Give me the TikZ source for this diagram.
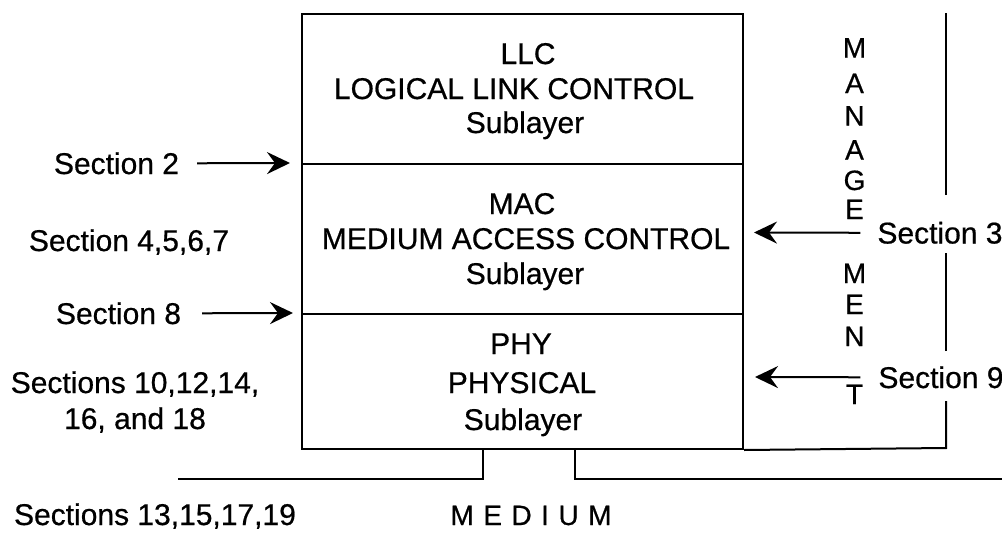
\documentclass[tikz,border=0pt]{standalone}
\usepackage{fontspec}
\setmainfont{Liberation Sans}[FakeBold=0.6]
\usetikzlibrary{arrows.meta}
\begin{document}
\begin{tikzpicture}[x=1pt,y=-1pt,line width=2pt,
  lbl/.style={font=\fontsize{30}{35}\selectfont,anchor=base,inner sep=0pt},
  mg/.style={font=\fontsize{28}{32}\selectfont,anchor=base,inner sep=0pt},
  layer/.style={draw,rectangle,inner sep=0pt,minimum width=441pt,anchor=north west},
  arr/.style={-{Stealth[length=23pt,width=22pt,inset=8pt]},line width=2pt}]
\useasboundingbox (0,0) rectangle (1002,533);
% layers
\node[layer,minimum height=150pt] (llc) at (301,13) {};
\node[layer,minimum height=150pt] (mac) at (301,163) {};
\node[layer,minimum height=135pt] (phy) at (301,313) {};
% layer texts
\node[lbl] (llc1) at (528,64) {LLC};
\node[lbl] (llc2) at (514,99) {LOGICAL LINK CONTROL};
\node[lbl] (llc3) at (525,133) {Sublayer};
\node[lbl] (mac1) at (522,214) {MAC};
\node[lbl] (mac2) at (526,249) {MEDIUM ACCESS CONTROL};
\node[lbl] (mac3) at (525,284) {Sublayer};
\node[lbl] (phy1) at (521,354) {PHY};
\node[lbl] (phy2) at (522,393) {PHYSICAL};
\node[lbl] (phy3) at (523,430) {Sublayer};
% management column
\draw (phy.south east) -- (946,448) -- (946,401);
\draw (946,351) -- (946,253);
\draw (946,195) -- (946,13);
\foreach \ch/\yy [count=\i] in {M/57.5,A/93,N/125.5,A/159.5,G/190,E/219,M/283,E/314,N/346,T/404}
  \node[mg] (mg\i) at (854.5,\yy) {\ch};
% left labels
\node[lbl] (s2) at (116.5,174) {Section 2};
\node[lbl] (s4) at (129,251) {Section 4,5,6,7};
\node[lbl] (s8) at (118.5,324) {Section 8};
\node[lbl] (s10a) at (135,393) {Sections 10,12,14,};
\node[lbl] (s10b) at (135,429) {16, and 18};
\node[lbl] (s13) at (155,525) {Sections 13,15,17,19};
% right labels
\node[lbl] (s3) at (940,243.5) {Section 3};
\node[lbl] (s9) at (941,388) {Section 9};
% arrows
\coordinate (t2) at (290,163);
\coordinate (t8) at (293,313);
\coordinate (t3) at (754,232.5);
\coordinate (t9) at (755,377);
\draw[arr] ([xshift=17pt]s2.east) -- (t2);
\draw[arr] ([xshift=20pt]s8.east) -- (t8);
\draw[arr] ([xshift=-16pt]s3.west) -- (t3);
\draw[arr] ([xshift=-17pt]s9.west) -- (t9);
% medium
\draw (178,479) -- (483,479) -- (483,448);
\draw (575,448) -- (575,479) -- (1002,479);
\node[mg] (med) at (531,525) {M\hspace{9.5pt}E\hspace{9.5pt}D\hspace{9.5pt}I\hspace{9.5pt}U\hspace{9.5pt}M};
\end{tikzpicture}
\end{document}
